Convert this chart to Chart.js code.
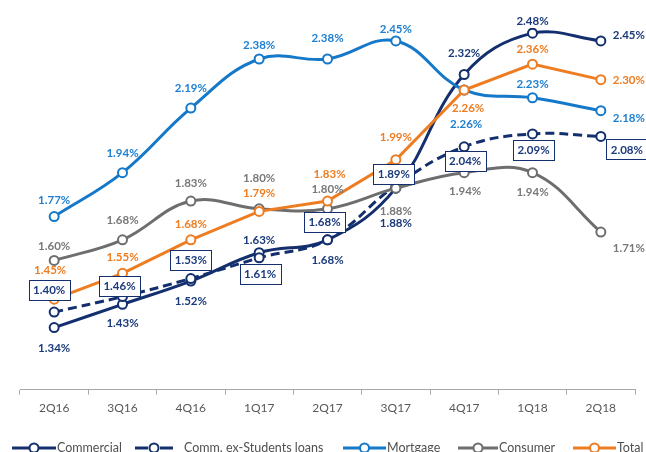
<!DOCTYPE html>
<html>
<head>
<meta charset="utf-8">
<script src="https://cdn.jsdelivr.net/npm/chart.js@4.4.1/dist/chart.umd.min.js"></script>
<style>
  html, body { margin: 0; padding: 0; background: #ffffff; }
  #wrap { width: 646px; height: 452px; position: relative; }
</style>
</head>
<body>
<div id="wrap"><canvas id="c" width="646" height="452"></canvas></div>
<script>
// Quarterly yields by loan portfolio (%)
const quarters = ['2Q16', '3Q16', '4Q16', '1Q17', '2Q17', '3Q17', '4Q17', '1Q18', '2Q18'];
const commercial = [1.34, 1.43, 1.52, 1.63, 1.68, 1.88, 2.32, 2.48, 2.45];
const commExStudents = [1.40, 1.46, 1.53, 1.61, 1.68, 1.89, 2.04, 2.09, 2.08];
const mortgage = [1.77, 1.94, 2.19, 2.38, 2.38, 2.45, 2.26, 2.23, 2.18];
const consumer = [1.60, 1.68, 1.83, 1.80, 1.80, 1.88, 1.94, 1.94, 1.71];
const total = [1.45, 1.55, 1.68, 1.79, 1.83, 1.99, 2.26, 2.36, 2.30];
const seriesNames = ['Commercial', 'Comm. ex-Students loans', 'Mortgage', 'Consumer', 'Total'];

// Styling
const NAVY = '#142f6e';
const BLUE = '#1578c8';
const GREY = '#6e6e6e';
const ORANGE = '#ee7d22';
const FONT = 'Lato, "Open Sans", sans-serif';

// Value label placement (pixel offsets from each point)
const labelOffsets = [
  [[0, 20], [0, 18], [0, 20], [0, -13], [0, 20], [0, 35], [0, -22], [0, -12], [28, -6]],
  [[-5, -22], [-3, -11], [0, -19], [1, 16], [-3, -18], [-2, -12], [1, 14], [1, 16], [26, 13]],
  [[0, -17], [0, -20], [0, -20], [0, -14], [0, -21], [0, -12], [2, 34], [0, -14], [28, 7]],
  [[0, -15], [0, -20], [0, -18], [0, -31], [0, -20], [0, 23], [1, 18], [0, 19], [28, 16]],
  [[-4, -29], [0, -17], [0, -16], [0, -19], [2, -27], [0, -23], [4, 18], [0, -15], [28, 0]]
];
const labelColors = ['#1b3a7c', '#1b3a7c', '#1f80d2', '#787878', '#ee7d22'];
const boxedSeries = [false, true, false, false, false];

function lineDataset(label, data, color, opts) {
  return Object.assign({
    label: label,
    data: data,
    borderColor: color,
    backgroundColor: '#ffffff',
    borderWidth: 3,
    pointRadius: 4.5,
    pointHoverRadius: 4.5,
    pointBorderWidth: 2,
    pointBackgroundColor: '#ffffff',
    pointBorderColor: color,
    tension: 0.4,
    fill: false
  }, opts || {});
}

const valueLabels = {
  id: 'valueLabels',
  afterDatasetsDraw(chart) {
    const ctx = chart.ctx;
    ctx.save();
    ctx.font = 'bold 11.5px ' + FONT;
    ctx.textAlign = 'center';
    ctx.textBaseline = 'middle';
    chart.data.datasets.forEach((ds, di) => {
      const meta = chart.getDatasetMeta(di);
      meta.data.forEach((pt, i) => {
        const off = labelOffsets[di][i];
        const text = ds.data[i].toFixed(2) + '%';
        const x = pt.x + off[0];
        const y = pt.y + off[1];
        if (boxedSeries[di]) {
          const w = ctx.measureText(text).width + 9;
          const h = 20;
          ctx.fillStyle = '#ffffff';
          ctx.fillRect(Math.round(x - w / 2) + 0.5, Math.round(y - h / 2) + 0.5, Math.round(w), h);
          ctx.strokeStyle = NAVY;
          ctx.lineWidth = 1;
          ctx.strokeRect(Math.round(x - w / 2) + 0.5, Math.round(y - h / 2) + 0.5, Math.round(w), h);
        }
        ctx.fillStyle = labelColors[di];
        ctx.fillText(text, x, y + 0.5);
      });
    });
    ctx.restore();
  }
};

// Legend entries along the bottom edge: line sample with an open marker, then the name
const legendItems = [
  { x0: 12, x1: 56, color: NAVY },
  { x0: 133, x1: 175, color: NAVY, dashed: true },
  { x0: 343, x1: 386, color: BLUE },
  { x0: 458, x1: 498, color: GREY },
  { x0: 573, x1: 616, color: ORANGE }
];
const bottomLegend = {
  id: 'bottomLegend',
  afterDraw(chart) {
    const ctx = chart.ctx;
    const y = 448;
    ctx.save();
    legendItems.forEach((it, i) => {
      const cx = (it.x0 + it.x1) / 2;
      ctx.strokeStyle = it.color;
      ctx.lineWidth = 3;
      ctx.beginPath();
      if (it.dashed) {
        ctx.moveTo(it.x0 + 2, y); ctx.lineTo(cx - 6, y);
        ctx.moveTo(cx + 6, y); ctx.lineTo(it.x1 - 2, y);
      } else {
        ctx.moveTo(it.x0, y); ctx.lineTo(it.x1, y);
      }
      ctx.stroke();
      ctx.beginPath();
      ctx.arc(cx, y, 4.5, 0, Math.PI * 2);
      ctx.fillStyle = '#ffffff';
      ctx.fill();
      ctx.lineWidth = 2;
      ctx.stroke();
      ctx.fillStyle = '#505050';
      ctx.font = '12.5px ' + FONT;
      ctx.textAlign = 'left';
      ctx.textBaseline = 'middle';
      ctx.fillText(seriesNames[i], it.x1 + (it.dashed ? 9 : 1), y);
    });
    ctx.restore();
  }
};

new Chart(document.getElementById('c'), {
  type: 'line',
  data: {
    labels: quarters,
    datasets: [
      lineDataset(seriesNames[0], commercial, NAVY, { order: 5 }),
      lineDataset(seriesNames[1], commExStudents, NAVY, { order: 4, borderDash: [9, 5] }),
      lineDataset(seriesNames[2], mortgage, BLUE, { order: 3 }),
      lineDataset(seriesNames[3], consumer, GREY, { order: 2 }),
      lineDataset(seriesNames[4], total, ORANGE, { order: 1, tension: 0 })
    ]
  },
  options: {
    responsive: false,
    animation: false,
    devicePixelRatio: 1,
    layout: { padding: { left: 20, right: 11, top: 28, bottom: 31 } },
    plugins: {
      legend: { display: false },
      tooltip: { enabled: false }
    },
    scales: {
      x: {
        type: 'category',
        offset: true,
        border: { display: true, color: '#a8a8a8', width: 1 },
        grid: {
          display: true,
          offset: true,
          drawOnChartArea: false,
          drawTicks: true,
          tickLength: 5,
          color: '#a8a8a8'
        },
        ticks: {
          color: '#595959',
          padding: 6,
          font: { family: FONT, size: 12 }
        }
      },
      y: {
        display: false,
        min: 1.1,
        max: 2.5
      }
    }
  },
  plugins: [valueLabels, bottomLegend]
});
</script>
</body>
</html>
